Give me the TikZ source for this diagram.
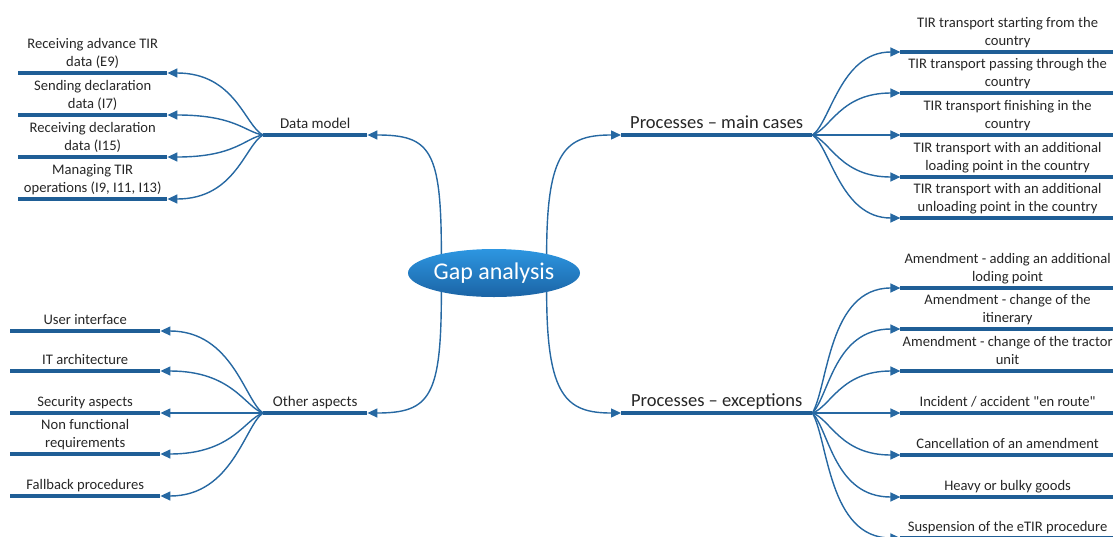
\documentclass[tikz,border=0pt]{standalone}
\usepackage{fontspec}
\setmainfont{Carlito}[Ligatures=TeXOff]
\usepackage{tikz}
\usetikzlibrary{calc}
\usetikzlibrary{arrows.meta,shapes.geometric}

\definecolor{barblue}{RGB}{31,94,150}
\definecolor{linkblue}{RGB}{38,104,162}
\definecolor{gaptop}{RGB}{45,150,225}
\definecolor{gapbottom}{RGB}{27,100,165}
\definecolor{txtgray}{RGB}{38,38,38}

\begin{document}
\begin{tikzpicture}[x=1pt,y=-1pt,
		bar/.style={draw=barblue,line width=4pt},
		link/.style={color=linkblue,line width=1.4pt},
		tipend/.style={-{Triangle[length=10pt,width=9pt]}},
		topic/.style={anchor=south west,inner xsep=0pt,inner ysep=1.5pt,text depth=5pt,align=center,text=txtgray,font=\fontsize{15}{18}\selectfont,
			append after command={(\tikzlastnode.south west) edge[bar] (\tikzlastnode.south east)}},
		leaf/.style={topic,font=\fontsize{14.6}{18}\selectfont},
		bigtopic/.style={topic,font=\fontsize{18.5}{21}\selectfont}]
			\useasboundingbox (0,0) rectangle (1113,536);

			\node[ellipse,top color=gaptop,bottom color=gapbottom,minimum width=172pt,minimum height=48pt,inner sep=0pt,text=white,font=\fontsize{24}{28}\selectfont] (gap) at (494,273) {Gap analysis};

			\node[topic,minimum width=104pt] (dm) at ($(gap)+(-231,-138)$) {Data model};
			\node[topic,minimum width=104pt] (oa) at ($(gap)+(-231,140)$) {Other aspects};
			\node[bigtopic,minimum width=191pt] (pmc) at ($(gap)+(127,-138)$) {Processes – main cases};
			\node[bigtopic,minimum width=191pt] (pex) at ($(gap)+(127,140)$) {Processes – exceptions};

			%data model
			\node[leaf,minimum width=149pt] (dm1) at ($(dm.south west)+(-245,-62)$) {Receiving advance TIR\\data (E9)};
			\node[leaf,minimum width=149pt] (dm2) at ($(dm.south west)+(-245,-20)$) {Sending declaration\\data (I7)};
			\node[leaf,minimum width=149pt] (dm3) at ($(dm.south west)+(-245,22)$) {Receiving declaration\\data (I15)};
			\node[leaf,minimum width=149pt] (dm4) at ($(dm.south west)+(-245,64)$) {Managing TIR\\operations (I9, I11, I13)};

			%other aspects
			\node[leaf,minimum width=150pt] (oa1) at ($(oa.south west)+(-253,-82)$) {User interface};
			\node[leaf,minimum width=150pt] (oa2) at ($(oa.south west)+(-253,-42)$) {IT architecture};
			\node[leaf,minimum width=150pt] (oa3) at ($(oa.south west)+(-253,0)$) {Security aspects};
			\node[leaf,minimum width=150pt] (oa4) at ($(oa.south west)+(-253,41)$) {Non functional\\requirements};
			\node[leaf,minimum width=150pt] (oa5) at ($(oa.south west)+(-253,83)$) {Fallback procedures};

			%main cases
			\node[leaf,minimum width=214pt] (pmc1) at ($(pmc.south east)+(88,-83)$) {TIR transport starting from the\\country};
			\node[leaf,minimum width=214pt] (pmc2) at ($(pmc.south east)+(88,-42)$) {TIR transport passing through the\\country};
			\node[leaf,minimum width=214pt] (pmc3) at ($(pmc.south east)+(88,0)$) {TIR transport finishing in the\\country};
			\node[leaf,minimum width=214pt] (pmc4) at ($(pmc.south east)+(88,42)$) {TIR transport with an additional\\loading point in the country};
			\node[leaf,minimum width=214pt] (pmc5) at ($(pmc.south east)+(88,83)$) {TIR transport with an additional\\unloading point in the country};

			%exceptions
			\node[leaf,minimum width=214pt] (pex1) at ($(pex.south east)+(88,-125)$) {Amendment - adding an additional\\loding point};
			\node[leaf,minimum width=214pt] (pex2) at ($(pex.south east)+(88,-84)$) {Amendment - change of the\\itinerary};
			\node[leaf,minimum width=214pt] (pex3) at ($(pex.south east)+(88,-42)$) {Amendment - change of the tractor\\unit};
			\node[leaf,minimum width=214pt] (pex4) at ($(pex.south east)+(88,0)$) {Incident / accident "en route"};
			\node[leaf,minimum width=214pt] (pex5) at ($(pex.south east)+(88,42)$) {Cancellation of an amendment};
			\node[leaf,minimum width=214pt] (pex6) at ($(pex.south east)+(88,84)$) {Heavy or bulky goods};
			\node[leaf,minimum width=214pt] (pex7) at ($(pex.south east)+(88,125)$) {Suspension of the eTIR procedure};

			\draw[link,tipend] (gap.160) .. controls +(0,-104) and +(63,0) .. (dm.south east);
			\draw[link,tipend] (gap.200) .. controls +(0,104) and +(63,0) .. (oa.south east);
			\draw[link,tipend] (gap.20) .. controls +(0,-104) and +(-55,0) .. (pmc.south west);
			\draw[link,tipend] (gap.-20) .. controls +(0,104) and +(-55,0) .. (pex.south west);

			\draw[link,tipend] (dm.south west) .. controls +(-18,-9) and +(68,0) .. (dm1.south east);
			\draw[link,tipend] (dm.south west) .. controls +(-18,-3) and +(68,0) .. (dm2.south east);
			\draw[link,tipend] (dm.south west) .. controls +(-18,3) and +(68,0) .. (dm3.south east);
			\draw[link,tipend] (dm.south west) .. controls +(-18,10) and +(68,0) .. (dm4.south east);

			\draw[link,tipend] (oa.south west) .. controls +(-18,-12) and +(72,0) .. (oa1.south east);
			\draw[link,tipend] (oa.south west) .. controls +(-18,-6) and +(72,0) .. (oa2.south east);
			\draw[link,tipend] (oa.south west) -- (oa3.south east);
			\draw[link,tipend] (oa.south west) .. controls +(-18,6) and +(72,0) .. (oa4.south east);
			\draw[link,tipend] (oa.south west) .. controls +(-18,12) and +(72,0) .. (oa5.south east);

			\draw[link,tipend] (pmc.south east) .. controls +(18,-12) and +(-60,0) .. (pmc1.south west);
			\draw[link,tipend] (pmc.south east) .. controls +(18,-6) and +(-60,0) .. (pmc2.south west);
			\draw[link,tipend] (pmc.south east) -- (pmc3.south west);
			\draw[link,tipend] (pmc.south east) .. controls +(18,6) and +(-60,0) .. (pmc4.south west);
			\draw[link,tipend] (pmc.south east) .. controls +(18,12) and +(-60,0) .. (pmc5.south west);

			\draw[link,tipend] (pex.south east) .. controls +(16,-28) and +(-72,0) .. (pex1.south west);
			\draw[link,tipend] (pex.south east) .. controls +(17,-18) and +(-66,0) .. (pex2.south west);
			\draw[link,tipend] (pex.south east) .. controls +(18,-6) and +(-60,0) .. (pex3.south west);
			\draw[link,tipend] (pex.south east) -- (pex4.south west);
			\draw[link,tipend] (pex.south east) .. controls +(18,6) and +(-60,0) .. (pex5.south west);
			\draw[link,tipend] (pex.south east) .. controls +(17,18) and +(-66,0) .. (pex6.south west);
			\draw[link,tipend] (pex.south east) .. controls +(16,28) and +(-72,0) .. (pex7.south west);

		\end{tikzpicture}
\end{document}
